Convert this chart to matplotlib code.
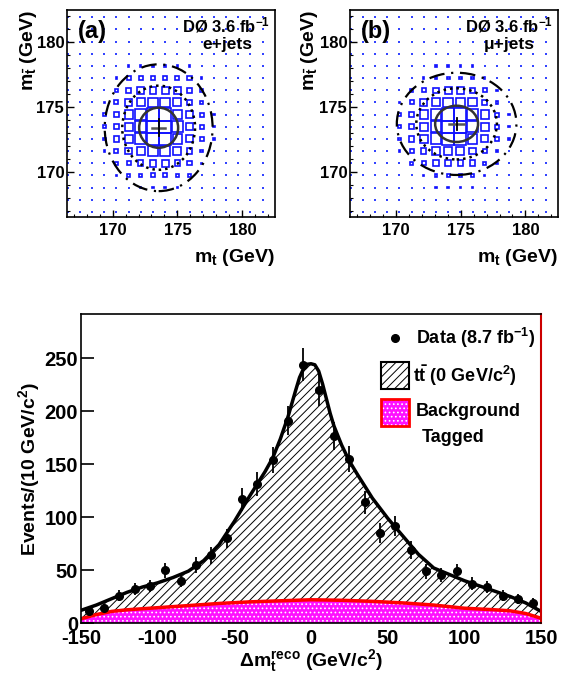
import numpy as np
import matplotlib
matplotlib.use("Agg")
import matplotlib.pyplot as plt
from matplotlib.patches import Rectangle, Ellipse

plt.rcParams['font.family'] = ['Liberation Sans', 'DejaVu Sans']
plt.rcParams['font.weight'] = 'bold'
plt.rcParams['axes.labelweight'] = 'bold'
plt.rcParams['mathtext.fontset'] = 'custom'
plt.rcParams['mathtext.rm'] = 'Liberation Sans:bold'
plt.rcParams['mathtext.it'] = 'Liberation Sans:bold'
plt.rcParams['mathtext.bf'] = 'Liberation Sans:bold'
plt.rcParams['mathtext.default'] = 'rm'
plt.rcParams['axes.unicode_minus'] = False
plt.rcParams['hatch.linewidth'] = 0.7

# ---- top panels: 2D box histograms (size code 0..9, row = top to bottom) ----
mt_centers = np.linspace(166.55, 181.55, 17)
mtbar_centers = np.linspace(181.94, 166.9, 17)

box_a = [
    "00000000000000000",
    "00000000000000000",
    "00000000000000000",
    "00000000000000000",
    "00000111111000000",
    "00001333333100000",
    "00002455554200000",
    "00013567764200000",
    "00024689975310000",
    "00024689985310000",
    "00024689975310000",
    "00013567764200000",
    "00002345543100000",
    "00001223322000000",
    "00000011110000000",
    "00000000000000000",
    "00000000000000000",
]
box_b = [
    "00000000000000000",
    "00000000000000000",
    "00000000000000000",
    "00000000000000000",
    "00000001111000000",
    "00000012222100000",
    "00000234554310000",
    "00001356776420000",
    "00002468998631000",
    "00002468998631000",
    "00002468997531000",
    "00001346665320000",
    "00000234444210000",
    "00000012222100000",
    "00000001111000000",
    "00000000000000000",
    "00000000000000000",
]

# fitted point (x, y, xerr, yerr) and contour sizes (width, height)
fit_a = (173.55, 173.4, 0.5, 0.65)
fit_b = (174.7, 173.7, 0.58, 0.45)
contours_a = [(3.0, 3.1), (5.6, 6.5), (8.3, 9.8)]
contours_b = [(3.3, 2.8), (6.2, 5.5), (9.2, 7.9)]
panel_tags = ["(a)", "(b)"]
channels = ["e+jets", "\u03bc+jets"]

# ---- bottom panel ----
bin_centers = np.arange(-145, 150, 10)
data_counts = [11, 14, 26, 32, 35, 50, 40, 55, 64, 80, 117, 131, 154, 191, 244,
               220, 177, 155, 114, 85, 92, 69, 49, 45, 49, 37, 34, 26, 23, 19]
data_err = [3.3, 3.7, 5.1, 5.7, 5.9, 7.1, 6.3, 7.4, 8.0, 8.9, 10.8, 11.4, 12.4, 13.8, 15.6,
            14.8, 13.3, 12.4, 10.7, 9.2, 9.6, 8.3, 7.0, 6.7, 7.0, 6.1, 5.8, 5.1, 4.8, 4.4]

curve_x = [-150, -140, -130, -120, -110, -100, -90, -80, -70, -60, -50, -40, -30, -25, -20,
           -15, -10, -7.5, -5, -2.5, 0, 2.5, 5, 7.5, 10, 12.5, 15, 20, 25, 30, 40, 50, 60,
           70, 80, 90, 100, 110, 120, 130, 140, 150]
curve_y = [12, 17, 23, 29, 34, 38, 43, 49, 59, 74, 96, 120, 143, 156, 174,
           195, 220, 232, 240, 244.5, 245, 244, 238, 226, 212, 198, 186, 168, 153, 141, 118, 99, 82,
           65, 52, 46, 40, 35, 30, 25, 19, 11]

bkg_x = [-150, -140, -130, -120, -100, -80, -60, -40, -20, 0, 20, 40, 60, 80, 100, 120, 130, 140, 150]
bkg_y = [4, 8, 11, 12.5, 14.5, 16.5, 18.5, 20, 21, 22, 21.5, 20.5, 19, 17, 14, 12.5, 11.5, 9, 4.5]

fig = plt.figure(figsize=(5.65, 6.75), dpi=100)

top_axes = [fig.add_axes([0.1186, 0.6785, 0.3681, 0.3067]),
            fig.add_axes([0.6195, 0.6785, 0.3681, 0.3067])]
bw = 0.9375
for i, ax in enumerate(top_axes):
    grid = [box_a, box_b][i]
    fit = [fit_a, fit_b][i]
    conts = [contours_a, contours_b][i]
    dx, dy = [], []
    for j, row in enumerate(grid):
        for k, ch in enumerate(row):
            d = int(ch)
            x, y = mt_centers[k], mtbar_centers[j]
            if d == 0:
                dx.append(x)
                dy.append(y)
            else:
                s = d / 9 * bw
                ax.add_patch(Rectangle((x - s / 2, y - s / 2), s, s, facecolor='none',
                                       edgecolor='#1010ff', lw=1.2))
    ax.scatter(dx, dy, marker='s', s=1.5, color='#3344ff', lw=0)
    cx, cy = fit[0], fit[1]
    ax.add_patch(Ellipse((cx, cy), conts[0][0], conts[0][1], fill=False, color='#333333', lw=1.8))
    ax.add_patch(Ellipse((cx, cy), conts[1][0], conts[1][1], fill=False, color='black', lw=1.8,
                         linestyle=(0, (1, 1.6))))
    ax.add_patch(Ellipse((cx, cy), conts[2][0], conts[2][1], fill=False, color='black', lw=1.6,
                         linestyle=(0, (7, 3, 1, 3))))
    ax.plot([cx - fit[2], cx + fit[2]], [cy, cy], color='#555555', lw=1.8)
    ax.plot([cx, cx], [cy - fit[3], cy + fit[3]], color='black', lw=1.3)

    ax.set_xlim(166.5, 182.5)
    ax.set_ylim(166.5, 182.5)
    ax.set_xticks([170, 175, 180])
    ax.set_yticks([170, 175, 180])
    ax.set_xticks(np.arange(167, 183), minor=True)
    ax.set_yticks(np.arange(167, 183), minor=True)
    ax.tick_params(which='both', direction='in', labelsize=12)
    ax.tick_params(which='major', length=5, width=1.0, pad=4)
    ax.tick_params(which='minor', length=2.5, width=0.8)
    ax.tick_params(axis='y', pad=2)
    for sp in ax.spines.values():
        sp.set_linewidth(1.2)

    ax.text(0.053, 0.894, panel_tags[i], transform=ax.transAxes, fontsize=17,
            ha='left', va='center')
    ax.text(0.975, 0.928, "D\u00d8 3.6 fb$^{-1}$", transform=ax.transAxes, fontsize=12,
            ha='right', va='center')
    ax.text(0.89, 0.835, channels[i], transform=ax.transAxes, fontsize=12.5,
            ha='right', va='center')

for xr, xl in [(0.4867, 0.05), (0.9876, 0.548)]:
    fig.text(xr, 0.618, r"m$_t$ (GeV)", ha='right', va='center', fontsize=14)
    fig.text(xl, 0.985, r"m$_{\bar{t}}$ (GeV)", rotation=90, ha='center', va='top', fontsize=14)

# ---- bottom panel ----
ax = fig.add_axes([0.1434, 0.0770, 0.8142, 0.4578])
ax.fill_between(curve_x, 0, curve_y, facecolor='white', edgecolor='black', hatch='////', lw=0)
ax.fill_between(bkg_x, 0, bkg_y, facecolor='#ff10ff', edgecolor='white', hatch='....', lw=0)
ax.plot(bkg_x, bkg_y, color='#ff0000', lw=2.5)
ax.plot(curve_x, curve_y, color='black', lw=2.5)
ax.errorbar(bin_centers, data_counts, yerr=data_err, fmt='o', color='black', ms=5.5,
            elinewidth=1.3, capsize=0)

ax.set_xlim(-150, 150)
ax.set_ylim(0, 292)
ax.set_xticks([-150, -100, -50, 0, 50, 100, 150])
ax.set_yticks([0, 50, 100, 150, 200, 250])
ax.tick_params(axis='y', direction='in', length=9, width=1.2, labelsize=14.5, pad=2)
ax.tick_params(axis='x', length=0, labelsize=14.5, pad=4)
for sp in ax.spines.values():
    sp.set_linewidth(1.2)
ax.spines['right'].set_color('#cc0000')
ax.spines['right'].set_linewidth(1.5)
ax.set_xlabel(r"$\Delta$m$_t^{reco}$ (GeV/c$^2$)", fontsize=14, labelpad=0)
ax.set_ylabel(r"Events/(10 GeV/c$^2$)", fontsize=14, labelpad=2)

# legend
ax.plot([0.6826], [0.9223], 'o', color='black', ms=5.5, transform=ax.transAxes)
ax.text(0.728, 0.9223, "Data (8.7 fb$^{-1}$)", transform=ax.transAxes, fontsize=13,
        ha='left', va='center')
ax.add_patch(Rectangle((0.652, 0.757), 0.0609, 0.0874, transform=ax.transAxes,
                       facecolor='white', edgecolor='black', hatch='////', lw=1.5))
ax.text(0.722, 0.8026, r"$t\bar{t}$ (0 GeV/c$^2$)", transform=ax.transAxes, fontsize=13,
        ha='left', va='center')
ax.add_patch(Rectangle((0.652, 0.6375), 0.0609, 0.0874, transform=ax.transAxes,
                       facecolor='#ff10ff', edgecolor='white', hatch='....', lw=0))
ax.add_patch(Rectangle((0.652, 0.6375), 0.0609, 0.0874, transform=ax.transAxes,
                       facecolor='none', edgecolor='#ff0000', lw=2))
ax.text(0.728, 0.683, "Background", transform=ax.transAxes, fontsize=13,
        ha='left', va='center')
ax.text(0.8087, 0.599, "Tagged", transform=ax.transAxes, fontsize=13,
        ha='center', va='center')

fig.savefig("out.png", dpi=100)
